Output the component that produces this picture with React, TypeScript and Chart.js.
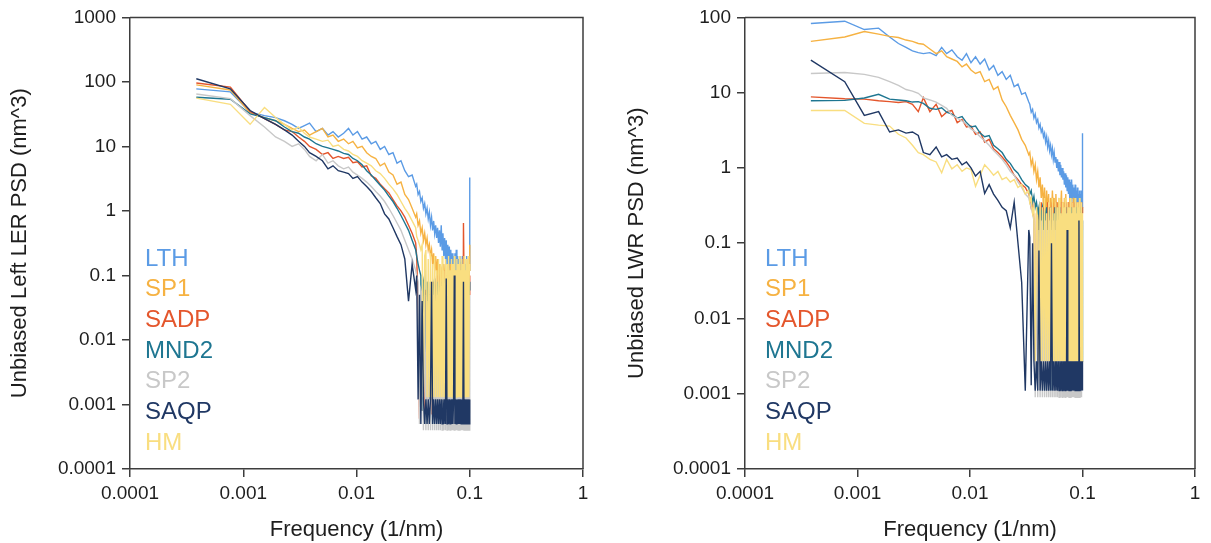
import React, { useEffect, useRef } from "react";
import { Chart, registerables } from "chart.js";

Chart.register(...registerables);

// ---------- data ----------
const frequencies = [
  0.000385, 0.00077, 0.00115, 0.00154, 0.00193, 0.00231, 0.0027, 0.00308, 0.00347, 0.00385,
  0.0044, 0.005, 0.0056, 0.0062, 0.0069, 0.0077, 0.0085, 0.0093, 0.0102, 0.0112,
  0.0123, 0.0135, 0.0148, 0.0162, 0.0177, 0.0193, 0.021, 0.0228, 0.0247, 0.0267,
  0.0288, 0.031, 0.0333,
  0.034, 0.035, 0.036, 0.037, 0.038, 0.039, 0.04, 0.041, 0.042, 0.043,
  0.044, 0.045, 0.046, 0.047, 0.048, 0.049, 0.05, 0.051, 0.052, 0.053,
  0.054, 0.055, 0.056, 0.057, 0.058, 0.059, 0.06, 0.061, 0.062, 0.063,
  0.064, 0.065, 0.066, 0.067, 0.068, 0.069, 0.07, 0.071, 0.072, 0.073,
  0.074, 0.075, 0.076, 0.077, 0.078, 0.079, 0.08, 0.081, 0.082, 0.083,
  0.084, 0.085, 0.086, 0.087, 0.088, 0.089, 0.09, 0.091, 0.092, 0.093,
  0.094, 0.095, 0.096, 0.097, 0.098, 0.099, 0.1,
];

const seriesNames = ["LTH", "SP1", "SADP", "MND2", "SP2", "SAQP", "HM"];
const seriesColors = ["#5B9BE5", "#F6B242", "#E4562C", "#1E7691", "#C8C8C8", "#203864", "#F9DE80"];

// Left chart: Unbiased Left LER PSD
const lerLTH = [
  78, 70, 34, 30, 28, 25, 22, 19, 21, 23,
  17, 19, 15, 17, 14, 16, 19, 15, 17, 13,
  14, 11, 12, 9, 10, 7.5, 8, 5.5, 6, 4.2,
  3.4, 3.6, 2.4,
  2.6, 1.8, 2.0, 1.4, 1.6, 1.1, 1.3, 0.9, 1.1, 0.75,
  0.95, 0.6, 0.8, 0.5, 0.7, 0.45, 0.6, 0.38, 0.55, 0.32,
  0.5, 0.28, 0.6, 0.25, 0.45, 0.2, 0.38, 0.18, 0.35, 0.15,
  0.3, 0.13, 0.28, 0.12, 0.25, 0.1, 0.22, 0.12, 0.2, 0.09,
  0.22, 0.1, 0.25, 0.08, 0.2, 0.1, 0.18, 0.07, 0.2, 0.09,
  0.16, 0.08, 0.2, 0.1, 0.15, 0.07, 0.18, 0.08, 0.15, 0.1,
  0.2, 0.08, 0.15, 0.1, 0.18, 0.12, 3.3,
];
const lerSP1 = [
  90, 75, 33, 28, 25, 22, 19, 17, 18, 15,
  17, 19, 14, 15, 12, 13, 11, 12, 9.5, 10,
  8, 7, 6.5, 5, 5.5, 4, 3.6, 2.6, 2.8, 1.8,
  1.5, 1.1, 0.8,
  0.9, 0.6, 0.7, 0.45, 0.55, 0.35, 0.45, 0.3, 0.38, 0.25,
  0.3, 0.2, 0.25, 0.15, 0.22, 0.12, 0.2, 0.1, 0.18, 0.0013,
  0.15, 0.1, 0.12, 0.08, 0.0013, 0.15, 0.1, 0.12, 0.0013, 0.08,
  0.12, 0.1, 0.0013, 0.15, 0.08, 0.1, 0.12, 0.0013, 0.1, 0.06,
  0.12, 0.0013, 0.1, 0.08, 0.12, 0.0013, 0.1, 0.15, 0.06, 0.0013,
  0.1, 0.12, 0.08, 0.0013, 0.1, 0.12, 0.06, 0.0013, 0.1, 0.08,
  0.12, 0.0013, 0.1, 0.08, 0.0013, 0.12, 0.3,
];
const lerSADP = [
  96, 83, 35, 27, 22, 18, 17, 14, 12, 10,
  9, 7.5, 8, 6.5, 7, 6.5, 6.8, 5.6, 5.8, 4.8,
  5.0, 3.5, 3.2, 2.6, 2.2, 1.9, 1.5, 1.2, 1.0, 0.8,
  0.6, 0.45, 0.32,
  0.2, 0.03, 0.0006, 0.04, 0.0008, 0.05, 0.0008, 0.06, 0.03, 0.0012,
  0.05, 0.04, 0.0007, 0.05, 0.08, 0.0012, 0.06, 0.1, 0.05, 0.0012,
  0.08, 0.1, 0.06, 0.0012, 0.1, 0.08, 0.12, 0.0012, 0.1, 0.08,
  0.0012, 0.1, 0.06, 0.08, 0.0012, 0.1, 0.12, 0.08, 0.0012, 0.1,
  0.06, 0.08, 0.0012, 0.1, 0.12, 0.06, 0.0012, 0.08, 0.1, 0.0012,
  0.08, 0.1, 0.06, 0.0012, 0.65, 0.1, 0.08, 0.0012, 0.1, 0.06,
  0.08, 0.0012, 0.1, 0.08, 0.0012, 0.1, 0.05,
];
const lerMND2 = [
  58, 54, 32, 28, 25, 20, 17, 16, 14, 13,
  11, 10, 9.5, 9, 8.5, 7.8, 7.5, 6.5, 6, 5.2,
  4.2, 3.6, 3.0, 2.5, 2.1, 1.7, 1.4, 1.1, 0.85, 0.65,
  0.5, 0.35, 0.25,
  0.2, 0.15, 0.12, 0.1, 0.0008, 0.08, 0.1, 0.0005, 0.08, 0.06,
  0.0012, 0.08, 0.06, 0.0005, 0.07, 0.09, 0.0012, 0.06, 0.08, 0.0005,
  0.07, 0.05, 0.0012, 0.08, 0.06, 0.0005, 0.07, 0.09, 0.0012, 0.06,
  0.08, 0.0005, 0.07, 0.05, 0.0012, 0.08, 0.06, 0.0005, 0.07, 0.09,
  0.0012, 0.06, 0.08, 0.0005, 0.07, 0.05, 0.0012, 0.08, 0.06, 0.0005,
  0.07, 0.09, 0.0012, 0.06, 0.08, 0.0005, 0.07, 0.05, 0.0012, 0.08,
  0.06, 0.0005, 0.07, 0.09, 0.0012, 0.06, 0.08,
];
const lerSP2 = [
  65, 55, 30, 20, 14, 12, 10, 11, 9, 7,
  6, 7.5, 5.5, 6, 5, 4.5, 4.8, 4.0, 3.6, 3.2,
  2.8, 2.4, 2.0, 1.7, 1.4, 1.1, 0.85, 0.65, 0.5, 0.35,
  0.25, 0.18, 0.12,
  0.1, 0.08, 0.0005, 0.06, 0.05, 0.0004, 0.05, 0.0004, 0.04, 0.0004,
  0.05, 0.0004, 0.04, 0.0004, 0.05, 0.0004, 0.04, 0.0004, 0.05, 0.0004,
  0.04, 0.0004, 0.05, 0.0004, 0.04, 0.0004, 0.05, 0.0004, 0.04, 0.0004,
  0.05, 0.0004, 0.04, 0.0004, 0.05, 0.0004, 0.04, 0.0004, 0.05, 0.0004,
  0.04, 0.0004, 0.05, 0.0004, 0.04, 0.0004, 0.05, 0.0004, 0.04, 0.0004,
  0.05, 0.0004, 0.04, 0.0004, 0.05, 0.0004, 0.04, 0.0004, 0.05, 0.0004,
  0.04, 0.0004, 0.05, 0.0004, 0.04, 0.0004, 0.05,
];
const lerSAQP = [
  112, 78, 36, 27, 22, 18, 15, 12, 10, 8,
  7, 6, 4.5, 5, 4.2, 4, 3.8, 3.2, 3.4, 2.8,
  2.4, 2.0, 1.6, 1.3, 0.9, 0.75, 0.55, 0.4, 0.3, 0.18,
  0.04, 0.15, 0.06,
  0.1, 0.0012, 0.05, 0.0005, 0.04, 0.0012, 0.0005, 0.0012, 0.0005, 0.0012,
  0.0005, 0.0012, 0.08, 0.0005, 0.0012, 0.0005, 0.0012, 0.0005, 0.0012, 0.0005,
  0.0012, 0.0005, 0.0012, 0.0005, 0.0012, 0.0005, 0.0012, 0.0005, 0.09, 0.0005,
  0.0012, 0.0005, 0.0012, 0.0005, 0.0012, 0.0005, 0.0012, 0.0005, 0.0012, 0.1,
  0.0005, 0.0012, 0.0005, 0.0012, 0.0005, 0.0012, 0.0005, 0.0012, 0.0005, 0.0012,
  0.0005, 0.0012, 0.0005, 0.0012, 0.08, 0.0005, 0.0012, 0.0005, 0.0012, 0.0005,
  0.0012, 0.0005, 0.0012, 0.0005, 0.0012, 0.0005, 0.0012,
];
const lerHM = [
  56, 45, 22, 40, 28, 22, 18, 20, 16, 14,
  13, 12, 12.5, 10, 10.5, 9, 8.5, 7.5, 7, 6,
  5.5, 5, 4.2, 3.8, 3.2, 2.6, 2.2, 1.8, 1.4, 1.1,
  0.9, 0.7, 0.55,
  0.4, 0.35, 0.3, 0.25, 0.3, 0.0013, 0.2, 0.25, 0.0013, 0.18,
  0.0013, 0.22, 0.0013, 0.15, 0.0013, 0.2, 0.0013, 0.12, 0.0013, 0.18,
  0.0013, 0.15, 0.0013, 0.2, 0.0013, 0.12, 0.0013, 0.18, 0.0013, 0.15,
  0.0013, 0.2, 0.0013, 0.12, 0.0013, 0.18, 0.0013, 0.15, 0.0013, 0.2,
  0.0013, 0.12, 0.0013, 0.18, 0.0013, 0.15, 0.0013, 0.2, 0.0013, 0.12,
  0.0013, 0.18, 0.0013, 0.15, 0.0013, 0.2, 0.0013, 0.12, 0.0013, 0.18,
  0.0013, 0.15, 0.0013, 0.2, 0.0013, 0.12, 0.15,
];

// Right chart: Unbiased LWR PSD
const lwrLTH = [
  83, 89, 69, 72, 55, 45, 40, 36, 34, 33,
  34, 31, 40, 33, 37, 30, 27, 33, 25, 30,
  24, 28, 20, 23, 17, 19, 15, 17, 12, 13,
  9.5, 10, 7.5,
  7, 5.5, 6, 4.6, 5.2, 4, 4.4, 3.4, 3.8, 3,
  3.3, 2.6, 2.9, 2.2, 2.6, 1.9, 2.3, 1.7, 2.0, 1.5,
  1.8, 1.3, 1.6, 1.2, 1.4, 1.0, 1.3, 0.9, 1.2, 0.8,
  1.1, 0.75, 1.0, 0.7, 0.9, 0.6, 0.85, 0.55, 0.8, 0.5,
  0.75, 0.45, 0.7, 0.4, 0.65, 0.35, 0.7, 0.4, 0.6, 0.3,
  0.55, 0.3, 0.6, 0.35, 0.5, 0.28, 0.55, 0.3, 0.45, 0.25,
  0.5, 0.3, 0.45, 0.28, 0.5, 0.3, 2.9,
];
const lwrSP1 = [
  48, 55, 65, 60, 56, 54, 50, 48, 45, 44,
  38, 33, 36, 30, 28, 26, 22, 24, 20, 18,
  19, 14, 15, 11, 12, 8, 6.5, 5, 4.0, 3.2,
  2.4, 2.0, 1.5,
  1.6, 1.1, 1.3, 0.9, 1.1, 0.7, 0.9, 0.55, 0.75, 0.4,
  0.6, 0.3, 0.55, 0.2, 0.5, 0.25, 0.45, 0.0027, 0.4, 0.2,
  0.5, 0.25, 0.4, 0.0027, 0.45, 0.2, 0.35, 0.15, 0.4, 0.0027,
  0.3, 0.5, 0.2, 0.35, 0.0027, 0.4, 0.25, 0.45, 0.15, 0.3,
  0.0027, 0.35, 0.2, 0.4, 0.15, 0.3, 0.0027, 0.35, 0.25, 0.4,
  0.2, 0.0027, 0.3, 0.35, 0.15, 0.3, 0.0027, 0.25, 0.35, 0.2,
  0.3, 0.0027, 0.25, 0.3, 0.2, 0.3, 0.25,
];
const lwrSADP = [
  8.8, 8.3, 8.2, 7.8, 7.6, 7.4, 7.6, 7.0, 5.6, 8.6,
  5.6, 7.0, 4.8, 5.5, 5.8, 4.0, 4.4, 3.5, 3.6, 2.8,
  3.0, 2.2, 2.4, 1.8, 1.6, 1.4, 1.2, 1.0, 0.8, 0.7,
  0.6, 0.55, 0.45,
  0.4, 0.3, 0.35, 0.2, 0.0027, 0.25, 0.0025, 0.3, 0.2, 0.35,
  0.0027, 0.3, 0.2, 0.25, 0.0027, 0.35, 0.2, 0.3, 0.0027, 0.25,
  0.35, 0.2, 0.0027, 0.3, 0.25, 0.35, 0.0027, 0.2, 0.3, 0.25,
  0.0027, 0.35, 0.2, 0.3, 0.0027, 0.25, 0.35, 0.2, 0.0027, 0.3,
  0.25, 0.35, 0.0027, 0.2, 0.3, 0.25, 0.0027, 0.35, 0.2, 0.3,
  0.0027, 0.25, 0.35, 0.2, 0.0027, 0.3, 0.25, 0.35, 0.0027, 0.2,
  0.3, 0.25, 0.0027, 0.35, 0.2, 0.3, 0.25,
];
const lwrMND2 = [
  7.8, 7.9, 8.5, 9.5, 8.2, 8.0, 7.8, 7.5, 7.6, 7.2,
  6.2, 6.0, 6.3, 5.5, 5.2, 4.6, 4.8, 4.0, 3.5, 3.6,
  2.9, 2.6, 2.7, 2.0, 1.8, 1.6, 1.3, 1.15, 0.95, 0.85,
  0.7, 0.6, 0.55,
  0.45, 0.5, 0.35, 0.42, 0.3, 0.35, 0.25, 0.3, 0.0027, 0.25,
  0.3, 0.2, 0.0011, 0.25, 0.3, 0.0027, 0.2, 0.25, 0.3, 0.0011,
  0.2, 0.25, 0.0027, 0.3, 0.2, 0.25, 0.0011, 0.2, 0.3, 0.0027,
  0.25, 0.2, 0.0011, 0.3, 0.25, 0.0027, 0.2, 0.3, 0.0011, 0.25,
  0.2, 0.0027, 0.3, 0.25, 0.0011, 0.2, 0.3, 0.0027, 0.25, 0.2,
  0.0011, 0.3, 0.25, 0.0027, 0.2, 0.3, 0.0011, 0.25, 0.2, 0.0027,
  0.3, 0.25, 0.0011, 0.2, 0.3, 0.0027, 0.2,
];
const lwrSP2 = [
  18, 18.5, 17.5, 16, 14, 12.5, 11, 10.5, 9.8, 8.5,
  8, 7.5, 6.8, 6.2, 5.0, 4.6, 4.2, 3.8, 3.3, 3.0,
  2.6, 2.3, 2.0, 1.7, 1.5, 1.3, 1.1, 0.9, 0.8, 0.65,
  0.55, 0.45, 0.4,
  0.35, 0.3, 0.25, 0.2, 0.0009, 0.2, 0.0009, 0.15, 0.0009, 0.2,
  0.0009, 0.15, 0.0009, 0.2, 0.0009, 0.15, 0.0009, 0.2, 0.0009, 0.15,
  0.0009, 0.2, 0.0009, 0.15, 0.0009, 0.2, 0.0009, 0.15, 0.0009, 0.2,
  0.0009, 0.15, 0.0009, 0.2, 0.0009, 0.15, 0.0009, 0.2, 0.0009, 0.15,
  0.0009, 0.2, 0.0009, 0.15, 0.0009, 0.2, 0.0009, 0.15, 0.0009, 0.2,
  0.0009, 0.15, 0.0009, 0.2, 0.0009, 0.15, 0.0009, 0.2, 0.0009, 0.15,
  0.0009, 0.2, 0.0009, 0.15, 0.0009, 0.2, 0.15,
];
const lwrSAQP = [
  27, 14, 5, 5.6, 3.0, 3.2, 2.9, 3.0, 2.7, 1.6,
  1.5, 1.9, 1.4, 1.5, 1.3, 1.35, 1.1, 1.2, 1.0, 0.78,
  0.9, 0.46, 0.6, 0.45, 0.37, 0.3, 0.27, 0.16, 0.35, 0.1,
  0.03, 0.0011, 0.15,
  0.12, 0.0013, 0.1, 0.0027, 0.0011, 0.0027, 0.0011, 0.08, 0.0011, 0.0027,
  0.0011, 0.0027, 0.0011, 0.0027, 0.0011, 0.0027, 0.0011, 0.0027, 0.0011, 0.1,
  0.0011, 0.0027, 0.0011, 0.0027, 0.0011, 0.0027, 0.0011, 0.0027, 0.0011, 0.0027,
  0.0011, 0.0027, 0.0011, 0.0027, 0.0011, 0.0027, 0.0011, 0.0027, 0.0011, 0.15,
  0.0011, 0.0027, 0.0011, 0.0027, 0.0011, 0.0027, 0.0011, 0.0027, 0.0011, 0.0027,
  0.0011, 0.0027, 0.0011, 0.0027, 0.0011, 0.0027, 0.0011, 0.0027, 0.0011, 0.2,
  0.0011, 0.0027, 0.0011, 0.0027, 0.0011, 0.0027, 0.0011,
];
const lwrHM = [
  5.8, 5.8, 3.9, 3.7, 3.6, 2.8, 2.5, 2.0, 1.6, 1.5,
  1.3, 1.2, 0.86, 1.3, 0.97, 1.1, 0.9, 1.0, 0.95, 0.57,
  0.8, 1.1, 0.95, 0.8, 0.9, 0.7, 0.75, 0.65, 0.7, 0.55,
  0.6, 0.45, 0.5,
  0.35, 0.4, 0.25, 0.3, 0.0027, 0.3, 0.2, 0.0027, 0.35, 0.0027,
  0.3, 0.0027, 0.4, 0.0027, 0.25, 0.0027, 0.35, 0.0027, 0.3, 0.0027,
  0.4, 0.0027, 0.25, 0.0027, 0.35, 0.0027, 0.3, 0.0027, 0.4, 0.0027,
  0.25, 0.0027, 0.35, 0.0027, 0.3, 0.0027, 0.4, 0.0027, 0.25, 0.0027,
  0.35, 0.0027, 0.3, 0.0027, 0.4, 0.0027, 0.25, 0.0027, 0.35, 0.0027,
  0.3, 0.0027, 0.4, 0.0027, 0.25, 0.0027, 0.35, 0.0027, 0.3, 0.0027,
  0.4, 0.0027, 0.25, 0.0027, 0.35, 0.0027, 0.25,
];

const xTickValues = [0.0001, 0.001, 0.01, 0.1, 1];
const xTickLabels = ["0.0001", "0.001", "0.01", "0.1", "1"];
const lerTickValues = [0.0001, 0.001, 0.01, 0.1, 1, 10, 100, 1000];
const lerTickLabels = ["0.0001", "0.001", "0.01", "0.1", "1", "10", "100", "1000"];
const lwrTickValues = [0.0001, 0.001, 0.01, 0.1, 1, 10, 100];
const lwrTickLabels = ["0.0001", "0.001", "0.01", "0.1", "1", "10", "100"];

const xTitle = "Frequency (1/nm)";
const lerTitle = "Unbiased Left LER PSD (nm^3)";
const lwrTitle = "Unbiased LWR PSD (nm^3)";

// ---------- styling ----------
const FONT = "'Liberation Sans', Arial, Helvetica, sans-serif";
const AXIS_COLOR = "#3d3d3d";
const TEXT_COLOR = "#1e1e1e";

type PsdProps = {
  width: number;
  height: number;
  series: number[][];
  yTickValues: number[];
  yTickLabels: string[];
  yTitle: string;
  yAxisWidth: number;
  yTitlePad: number;
  rightPad: number;
  legendOffset: number;
};

function PsdChart(props: PsdProps) {
  const ref = useRef<HTMLCanvasElement | null>(null);

  useEffect(() => {
    const canvas = ref.current;
    if (!canvas) return;
    const yMin = props.yTickValues[0];
    const yMax = props.yTickValues[props.yTickValues.length - 1];

    const frame = {
      id: "frame",
      afterDraw(chart: any) {
        const { ctx, chartArea: a } = chart;
        ctx.save();
        ctx.strokeStyle = AXIS_COLOR;
        ctx.lineWidth = 1.5;
        ctx.beginPath();
        ctx.moveTo(a.left, a.top);
        ctx.lineTo(a.right, a.top);
        ctx.lineTo(a.right, a.bottom);
        ctx.stroke();
        ctx.restore();
      },
    };

    const textLegend = {
      id: "textLegend",
      afterDraw(chart: any) {
        const { ctx, chartArea: a } = chart;
        ctx.save();
        ctx.font = `24px ${FONT}`;
        ctx.textBaseline = "middle";
        ctx.textAlign = "left";
        seriesNames.forEach((name, i) => {
          ctx.fillStyle = seriesColors[i];
          ctx.fillText(name, a.left + props.legendOffset, 259 + i * 30.7);
        });
        ctx.restore();
      },
    };

    const chart = new Chart(canvas, {
      type: "line",
      data: {
        datasets: seriesNames.map((name, i) => ({
          label: name,
          data: frequencies.map((f, k) => ({ x: f, y: props.series[i][k] })),
          borderColor: seriesColors[i],
          backgroundColor: seriesColors[i],
          borderWidth: 1.4,
          pointRadius: 0,
          tension: 0,
          fill: false,
          order: name === "SAQP" ? 0 : seriesNames.length - i,
        })),
      },
      options: {
        responsive: false,
        animation: false,
        events: [],
        layout: { padding: { top: 17, right: props.rightPad, left: 0, bottom: 0 } },
        plugins: {
          legend: { display: false },
          tooltip: { enabled: false },
        },
        scales: {
          x: {
            type: "logarithmic",
            min: 0.0001,
            max: 1,
            afterBuildTicks: (scale: any) => {
              scale.ticks = xTickValues.map((v) => ({ value: v }));
            },
            afterFit: (scale: any) => {
              scale.height = 74;
            },
            ticks: {
              autoSkip: false,
              maxRotation: 0,
              padding: 5,
              color: TEXT_COLOR,
              font: { family: FONT, size: 19 },
              callback: (_v: any, i: number) => xTickLabels[i],
            },
            grid: {
              display: true,
              drawOnChartArea: false,
              drawTicks: true,
              tickLength: 8,
              color: AXIS_COLOR,
              lineWidth: 1.5,
            },
            border: { display: true, color: AXIS_COLOR, width: 1.5 },
            title: {
              display: true,
              text: xTitle,
              color: TEXT_COLOR,
              font: { family: FONT, size: 22 },
              padding: { top: 0, bottom: 0 },
            },
          },
          y: {
            type: "logarithmic",
            min: yMin,
            max: yMax,
            afterBuildTicks: (scale: any) => {
              scale.ticks = props.yTickValues.map((v) => ({ value: v }));
            },
            afterFit: (scale: any) => {
              scale.width = props.yAxisWidth;
            },
            ticks: {
              autoSkip: false,
              padding: 6,
              color: TEXT_COLOR,
              font: { family: FONT, size: 19 },
              callback: (_v: any, i: number) => props.yTickLabels[i],
            },
            grid: {
              display: true,
              drawOnChartArea: false,
              drawTicks: true,
              tickLength: 8,
              color: AXIS_COLOR,
              lineWidth: 1.5,
            },
            border: { display: true, color: AXIS_COLOR, width: 1.5 },
            title: {
              display: true,
              text: props.yTitle,
              color: TEXT_COLOR,
              font: { family: FONT, size: 22 },
              padding: { top: props.yTitlePad, bottom: 0 },
            },
          },
        },
      },
      plugins: [frame, textLegend],
    } as any);

    return () => chart.destroy();
  }, []);

  return <canvas ref={ref} width={props.width} height={props.height} style={{ display: "block" }} />;
}

export default function App() {
  return (
    <div
      style={{
        position: "absolute",
        left: 0,
        top: 0,
        width: 1211,
        height: 543,
        background: "#ffffff",
        overflow: "hidden",
      }}
    >
      <div style={{ position: "absolute", left: 0, top: 0 }}>
        <PsdChart
          width={600}
          height={543}
          series={[lerLTH, lerSP1, lerSADP, lerMND2, lerSP2, lerSAQP, lerHM]}
          yTickValues={lerTickValues}
          yTickLabels={lerTickLabels}
          yTitle={lerTitle}
          yAxisWidth={130}
          yTitlePad={7}
          rightPad={17}
          legendOffset={15}
        />
      </div>
      <div style={{ position: "absolute", left: 600, top: 0 }}>
        <PsdChart
          width={611}
          height={543}
          series={[lwrLTH, lwrSP1, lwrSADP, lwrMND2, lwrSP2, lwrSAQP, lwrHM]}
          yTickValues={lwrTickValues}
          yTickLabels={lwrTickLabels}
          yTitle={lwrTitle}
          yAxisWidth={145}
          yTitlePad={24}
          rightPad={16}
          legendOffset={20}
        />
      </div>
    </div>
  );
}
